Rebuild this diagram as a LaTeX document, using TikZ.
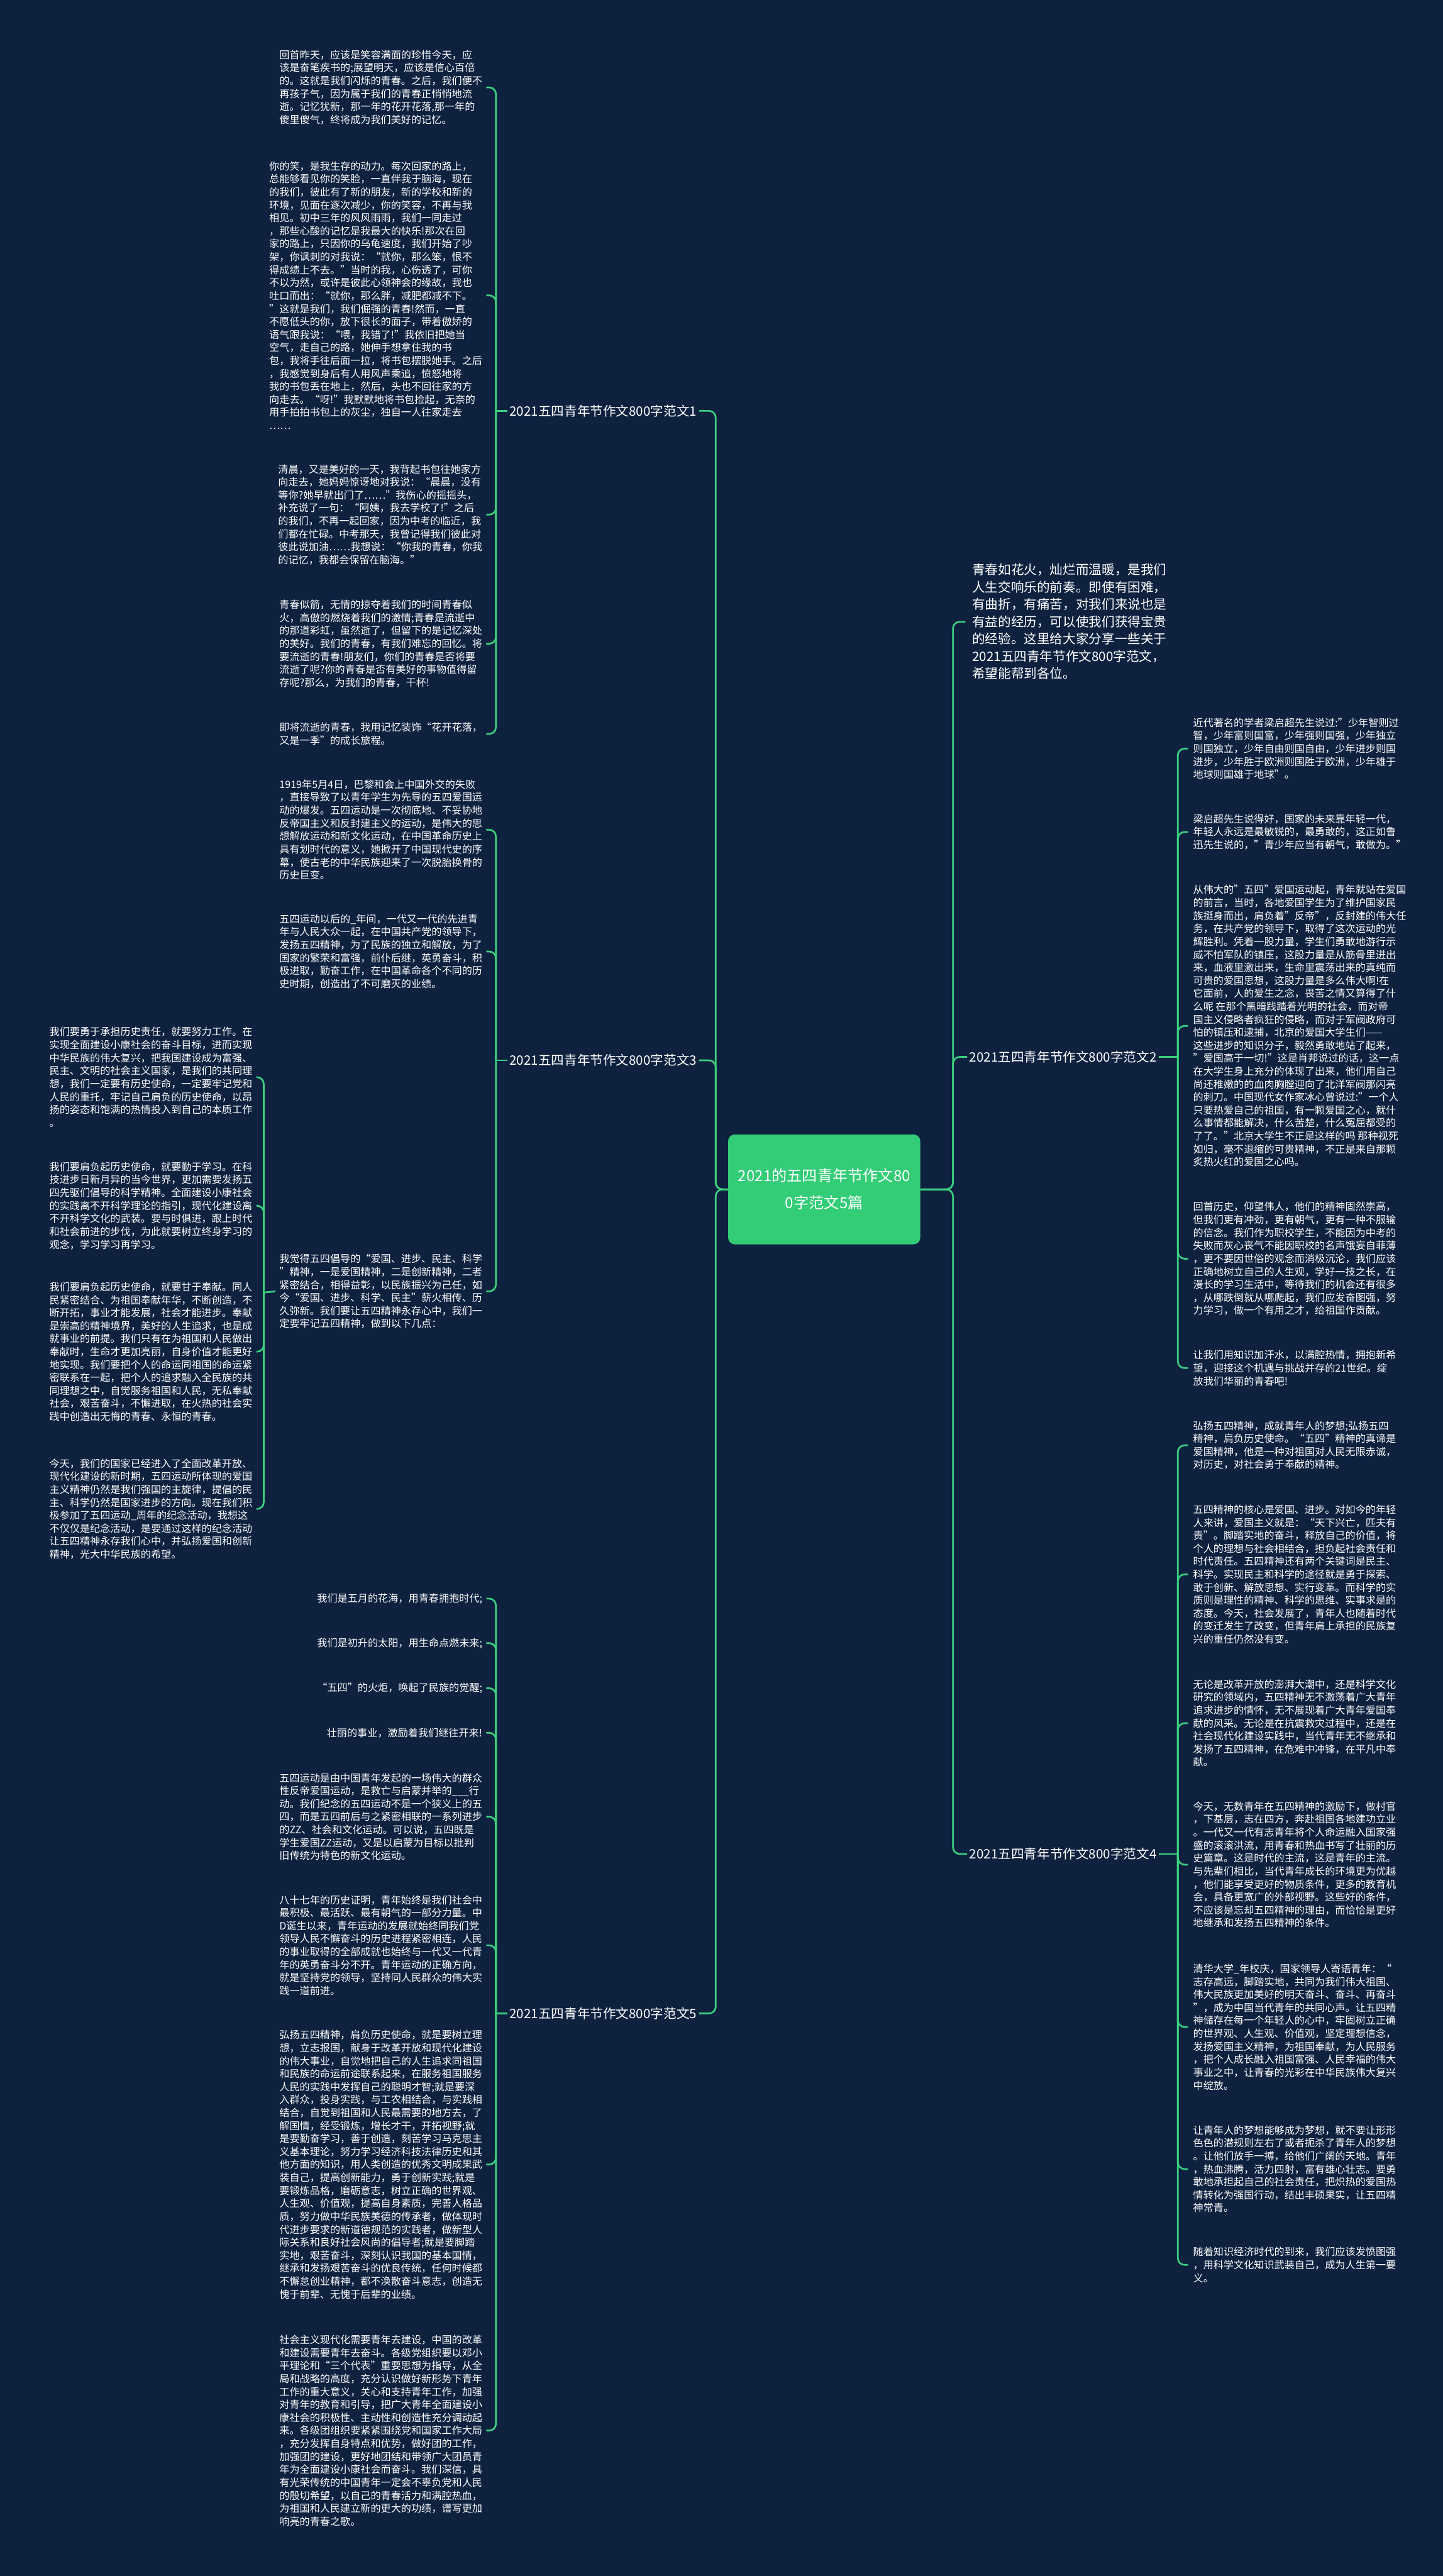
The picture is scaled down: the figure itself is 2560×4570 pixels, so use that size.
\documentclass[tikz,border=0pt]{standalone}
\usepackage{fontspec}
\setmainfont{Noto Sans CJK SC}
\definecolor{bg}{HTML}{0E2240}
\definecolor{ln}{HTML}{3BD07E}
\definecolor{cn}{HTML}{33CC77}
\begin{document}
\begin{tikzpicture}[x=1pt,y=-1pt,
  txt/.style={text=white, font=\fontsize{18pt}{23pt}\selectfont, inner ysep=0pt, align=left},
  lc/.style={txt, anchor=east, inner xsep=7pt},
  lcr/.style={lc, align=right},
  rc/.style={txt, anchor=west, inner xsep=9pt},
  brl/.style={text=white, font=\fontsize{23pt}{28pt}\selectfont, inner sep=4pt, anchor=west},
  intro/.style={text=white, font=\fontsize{23pt}{30.7pt}\selectfont, inner xsep=12pt, inner ysep=0pt, align=left, anchor=west},
  ctr/.style={fill=cn, rounded corners=12pt, minimum width=341pt, minimum height=195pt, text=white, font=\fontsize{27pt}{48pt}\selectfont, align=center},
  con/.style={draw=ln, line width=3pt, rounded corners=12pt},
]
\fill[bg] (0,0) rectangle (2560,4570);
\useasboundingbox (0,0) rectangle (2560,4570);

% center
\node[ctr] (c) at (1462.5,2110) {2021的五四青年节作文80\\0字范文5篇};
\coordinate (cl) at (1270,2110);
\coordinate (cr) at (1691,2110);

% branch labels
\node[brl] (b1) at (900,729) {2021五四青年节作文800字范文1};
\node[brl] (b3) at (900,1881) {2021五四青年节作文800字范文3};
\node[brl] (b5) at (900,3572) {2021五四青年节作文800字范文5};
\node[brl] (b2) at (1716,1875) {2021五四青年节作文800字范文2};
\node[brl] (b4) at (1716,3289) {2021五四青年节作文800字范文4};
\node[intro] (in) at (1713,1103) {青春如花火，灿烂而温暖，是我们\\人生交响乐的前奏。即使有困难，\\有曲折，有痛苦，对我们来说也是\\有益的经历，可以使我们获得宝贵\\的经验。这里给大家分享一些关于\\2021五四青年节作文800字范文，\\希望能帮到各位。};

\draw[con] (c.west) -- (cl) |- (b1.east);
\draw[con] (c.west) -- (cl) |- (b3.east);
\draw[con] (c.west) -- (cl) |- (b5.east);
\draw[con] (c.east) -- (cr) |- (in.west);
\draw[con] (c.east) -- (cr) |- (b2.west);
\draw[con] (c.east) -- (cr) |- (b4.west);

% junctions
\coordinate (j1) at (880,729);
\coordinate (j3) at (880,1881);
\coordinate (j5) at (880,3572);
\coordinate (j2) at (2090,1875);
\coordinate (j4) at (2090,3289);
\coordinate (jl) at (468,2293);
\draw[con] (j1) -- (b1.west);
\draw[con] (j3) -- (b3.west);
\draw[con] (j5) -- (b5.west);
\draw[con] (b2.east) -- (j2);
\draw[con] (b4.east) -- (j4);

% ---------- branch 1 ----------
\node[lc] (c11) at (863,155) {回首昨天，应该是笑容满面的珍惜今天，应\\该是奋笔疾书的;展望明天，应该是信心百倍\\的。这就是我们闪烁的青春。之后，我们便不\\再孩子气，因为属于我们的青春正悄悄地流\\逝。记忆犹新，那一年的花开花落,那一年的\\傻里傻气，终将成为我们美好的记忆。};
\node[lc] (c12) at (863,524) {你的笑，是我生存的动力。每次回家的路上，\\总能够看见你的笑脸，一直伴我于脑海，现在\\的我们，彼此有了新的朋友，新的学校和新的\\环境，见面在逐次减少，你的笑容，不再与我\\相见。初中三年的风风雨雨，我们一同走过\\，那些心酸的记忆是我最大的快乐!那次在回\\家的路上，只因你的乌龟速度，我们开始了吵\\架，你讽刺的对我说：“就你，那么笨，恨不\\得成绩上不去。”当时的我，心伤透了，可你\\不以为然，或许是彼此心领神会的缘故，我也\\吐口而出：“就你，那么胖，减肥都减不下。\\”这就是我们，我们倔强的青春!然而，一直\\不愿低头的你，放下很长的面子，带着傲娇的\\语气跟我说：“喂，我错了!”我依旧把她当\\空气，走自己的路，她伸手想拿住我的书\\包，我将手往后面一拉，将书包摆脱她手。之后\\，我感觉到身后有人用风声乘追，愤怒地将\\我的书包丢在地上，然后，头也不回往家的方\\向走去。“呀!”我默默地将书包捡起，无奈的\\用手拍拍书包上的灰尘，独自一人往家走去\\……};
\node[lc] (c13) at (863,913) {清晨，又是美好的一天，我背起书包往她家方\\向走去，她妈妈惊讶地对我说：“晨晨，没有\\等你?她早就出门了……”我伤心的摇摇头，\\补充说了一句：“阿姨，我去学校了!”之后\\的我们，不再一起回家，因为中考的临近，我\\们都在忙碌。中考那天，我曾记得我们彼此对\\彼此说加油……我想说：“你我的青春，你我\\的记忆，我都会保留在脑海。”};
\node[lc] (c14) at (863,1142) {青春似箭，无情的掠夺着我们的时间青春似\\火，高傲的燃烧着我们的激情;青春是流逝中\\的那道彩虹，虽然逝了，但留下的是记忆深处\\的美好。我们的青春，有我们难忘的回忆。将\\要流逝的青春!朋友们，你们的青春是否将要\\流逝了呢?你的青春是否有美好的事物值得留\\存呢?那么，为我们的青春，干杯!};
\node[lc] (c15) at (863,1302) {即将流逝的青春，我用记忆装饰“花开花落，\\又是一季”的成长旅程。};
\foreach \n in {c11,c12,c13,c14,c15} \draw[con] (j1) |- (\n.east);

% ---------- branch 3 ----------
\node[lc] (c31) at (863,1472) {1919年5月4日，巴黎和会上中国外交的失败\\，直接导致了以青年学生为先导的五四爱国运\\动的爆发。五四运动是一次彻底地、不妥协地\\反帝国主义和反封建主义的运动，是伟大的思\\想解放运动和新文化运动，在中国革命历史上\\具有划时代的意义，她掀开了中国现代史的序\\幕，使古老的中华民族迎来了一次脱胎换骨的\\历史巨变。};
\node[lc] (c32) at (863,1688) {五四运动以后的\_年间，一代又一代的先进青\\年与人民大众一起，在中国共产党的领导下，\\发扬五四精神，为了民族的独立和解放，为了\\国家的繁荣和富强，前仆后继，英勇奋斗，积\\极进取，勤奋工作，在中国革命各个不同的历\\史时期，创造出了不可磨灭的业绩。};
\node[lc] (c33) at (863,2291) {我觉得五四倡导的“爱国、进步、民主、科学\\”精神，一是爱国精神，二是创新精神，二者\\紧密结合，相得益彰，以民族振兴为己任，如\\今“爱国、进步、科学、民主”薪火相传、历\\久弥新。我们要让五四精神永存心中，我们一\\定要牢记五四精神，做到以下几点：};
\foreach \n in {c31,c32,c33} \draw[con] (j3) |- (\n.east);
\draw[con] (jl) -- (c33.west);

\node[lc] (d1) at (455,1911) {我们要勇于承担历史责任，就要努力工作。在\\实现全面建设小康社会的奋斗目标，进而实现\\中华民族的伟大复兴，把我国建设成为富强、\\民主、文明的社会主义国家，是我们的共同理\\想，我们一定要有历史使命，一定要牢记党和\\人民的重托，牢记自己肩负的历史使命，以昂\\扬的姿态和饱满的热情投入到自己的本质工作\\。};
\node[lc] (d2) at (455,2139) {我们要肩负起历史使命，就要勤于学习。在科\\技进步日新月异的当今世界，更加需要发扬五\\四先驱们倡导的科学精神。全面建设小康社会\\的实践离不开科学理论的指引，现代化建设离\\不开科学文化的武装。要与时俱进，跟上时代\\和社会前进的步伐，为此就要树立终身学习的\\观念，学习学习再学习。};
\node[lc] (d3) at (455,2398) {我们要肩负起历史使命，就要甘于奉献。同人\\民紧密结合、为祖国奉献年华，不断创造，不\\断开拓，事业才能发展，社会才能进步。奉献\\是崇高的精神境界，美好的人生追求，也是成\\就事业的前提。我们只有在为祖国和人民做出\\奉献时，生命才更加亮丽，自身价值才能更好\\地实现。我们要把个人的命运同祖国的命运紧\\密联系在一起，把个人的追求融入全民族的共\\同理想之中，自觉服务祖国和人民，无私奉献\\社会，艰苦奋斗，不懈进取，在火热的社会实\\践中创造出无悔的青春、永恒的青春。};
\node[lc] (d4) at (455,2677) {今天，我们的国家已经进入了全面改革开放、\\现代化建设的新时期，五四运动所体现的爱国\\主义精神仍然是我们强国的主旋律，提倡的民\\主、科学仍然是国家进步的方向。现在我们积\\极参加了五四运动\_周年的纪念活动，我想这\\不仅仅是纪念活动，是要通过这样的纪念活动\\让五四精神永存我们心中，并弘扬爱国和创新\\精神，光大中华民族的希望。};
\foreach \n in {d1,d2,d3,d4} \draw[con] (jl) |- (\n.east);

% ---------- branch 5 ----------
\node[lcr] (e1) at (863,2836) {我们是五月的花海，用青春拥抱时代;};
\node[lcr] (e2) at (863,2915) {我们是初升的太阳，用生命点燃未来;};
\node[lcr] (e3) at (863,2995) {“五四”的火炬，唤起了民族的觉醒;};
\node[lcr] (e4) at (863,3074) {壮丽的事业，激励着我们继往开来!};
\node[lc] (e5) at (863,3223) {五四运动是由中国青年发起的一场伟大的群众\\性反帝爱国运动，是救亡与启蒙并举的\_\_\_行\\动。我们纪念的五四运动不是一个狭义上的五\\四，而是五四前后与之紧密相联的一系列进步\\的ZZ、社会和文化运动。可以说，五四既是\\学生爱国ZZ运动，又是以启蒙为目标以批判\\旧传统为特色的新文化运动。};
\node[lc] (e6) at (863,3451) {八十七年的历史证明，青年始终是我们社会中\\最积极、最活跃、最有朝气的一部分力量。中\\D诞生以来，青年运动的发展就始终同我们党\\领导人民不懈奋斗的历史进程紧密相连，人民\\的事业取得的全部成就也始终与一代又一代青\\年的英勇奋斗分不开。青年运动的正确方向，\\就是坚持党的领导，坚持同人民群众的伟大实\\践一道前进。};
\node[lc] (e7) at (863,3840) {弘扬五四精神，肩负历史使命，就是要树立理\\想，立志报国，献身于改革开放和现代化建设\\的伟大事业，自觉地把自己的人生追求同祖国\\和民族的命运前途联系起来，在服务祖国服务\\人民的实践中发挥自己的聪明才智;就是要深\\入群众，投身实践，与工农相结合，与实践相\\结合，自觉到祖国和人民最需要的地方去，了\\解国情，经受锻炼，增长才干，开拓视野;就\\是要勤奋学习，善于创造，刻苦学习马克思主\\义基本理论，努力学习经济科技法律历史和其\\他方面的知识，用人类创造的优秀文明成果武\\装自己，提高创新能力，勇于创新实践;就是\\要锻炼品格，磨砺意志，树立正确的世界观、\\人生观、价值观，提高自身素质，完善人格品\\质，努力做中华民族美德的传承者，做体现时\\代进步要求的新道德规范的实践者，做新型人\\际关系和良好社会风尚的倡导者;就是要脚踏\\实地，艰苦奋斗，深刻认识我国的基本国情，\\继承和发扬艰苦奋斗的优良传统，任何时候都\\不懈怠创业精神，都不涣散奋斗意志，创造无\\愧于前辈、无愧于后辈的业绩。};
\node[lc] (e8) at (863,4312) {社会主义现代化需要青年去建设，中国的改革\\和建设需要青年去奋斗。各级党组织要以邓小\\平理论和“三个代表”重要思想为指导，从全\\局和战略的高度，充分认识做好新形势下青年\\工作的重大意义，关心和支持青年工作，加强\\对青年的教育和引导，把广大青年全面建设小\\康社会的积极性、主动性和创造性充分调动起\\来。各级团组织要紧紧围绕党和国家工作大局\\，充分发挥自身特点和优势，做好团的工作，\\加强团的建设，更好地团结和带领广大团员青\\年为全面建设小康社会而奋斗。我们深信，具\\有光荣传统的中国青年一定会不辜负党和人民\\的殷切希望，以自己的青春活力和满腔热血，\\为祖国和人民建立新的更大的功绩，谱写更加\\响亮的青春之歌。};
\foreach \n in {e1,e2,e3,e4,e5,e6,e7,e8} \draw[con] (j5) |- (\n.east);

% ---------- branch 2 ----------
\node[rc] (f1) at (2108,1328) {近代著名的学者梁启超先生说过:"少年智则过\\智，少年富则国富，少年强则国强，少年独立\\则国独立，少年自由则国自由，少年进步则国\\进步，少年胜于欧洲则国胜于欧洲，少年雄于\\地球则国雄于地球"。};
\node[rc] (f2) at (2108,1476) {梁启超先生说得好，国家的未来靠年轻一代，\\年轻人永远是最敏锐的，最勇敢的，这正如鲁\\迅先生说的，"青少年应当有朝气，敢做为。"};
\node[rc] (f3) at (2108,1820) {从伟大的"五四"爱国运动起，青年就站在爱国\\的前言，当时，各地爱国学生为了维护国家民\\族挺身而出，肩负着"反帝"，反封建的伟大任\\务，在共产党的领导下，取得了这次运动的光\\辉胜利。凭着一股力量，学生们勇敢地游行示\\威不怕军队的镇压，这股力量是从筋骨里迸出\\来，血液里激出来，生命里震荡出来的真纯而\\可贵的爱国思想，这股力量是多么伟大啊!在\\它面前，人的爱生之念，畏苦之情又算得了什\\么呢 在那个黑暗践踏着光明的社会，而对帝\\国主义侵略者疯狂的侵略，而对于军阀政府可\\怕的镇压和逮捕，北京的爱国大学生们——\\这些进步的知识分子，毅然勇敢地站了起来，\\"爱国高于一切!"这是肖邦说过的话，这一点\\在大学生身上充分的体现了出来，他们用自己\\尚还稚嫩的的血肉胸膛迎向了北洋军阀那闪亮\\的刺刀。中国现代女作家冰心曾说过:"一个人\\只要热爱自己的祖国，有一颗爱国之心，就什\\么事情都能解决，什么苦楚，什么冤屈都受的\\了了。"北京大学生不正是这样的吗 那种视死\\如归，毫不退缩的可贵精神，不正是来自那颗\\炙热火红的爱国之心吗。};
\node[rc] (f4) at (2108,2233) {回首历史，仰望伟人，他们的精神固然崇高，\\但我们更有冲劲，更有朝气，更有一种不服输\\的信念。我们作为职校学生，不能因为中考的\\失败而灰心丧气不能因职校的名声饿妄自菲薄\\，更不要因世俗的观念而消极沉沦，我们应该\\正确地树立自己的人生观，学好一技之长，在\\漫长的学习生活中，等待我们的机会还有很多\\，从哪跌倒就从哪爬起，我们应发奋图强，努\\力学习，做一个有用之才，给祖国作贡献。};
\node[rc] (f5) at (2108,2427) {让我们用知识加汗水，以满腔热情，拥抱新希\\望，迎接这个机遇与挑战并存的21世纪。绽\\放我们华丽的青春吧!};
\foreach \n in {f1,f2,f3,f4,f5} \draw[con] (j2) |- (\n.west);

% ---------- branch 4 ----------
\node[rc] (g1) at (2108,2564) {弘扬五四精神，成就青年人的梦想;弘扬五四\\精神，肩负历史使命。“五四”精神的真谛是\\爱国精神，他是一种对祖国对人民无限赤诚，\\对历史，对社会勇于奉献的精神。};
\node[rc] (g2) at (2108,2793) {五四精神的核心是爱国、进步。对如今的年轻\\人来讲，爱国主义就是：“天下兴亡，匹夫有\\责”。脚踏实地的奋斗，释放自己的价值，将\\个人的理想与社会相结合，担负起社会责任和\\时代责任。五四精神还有两个关键词是民主、\\科学。实现民主和科学的途径就是勇于探索、\\敢于创新、解放思想、实行变革。而科学的实\\质则是理性的精神、科学的思维、实事求是的\\态度。今天，社会发展了，青年人也随着时代\\的变迁发生了改变，但青年肩上承担的民族复\\兴的重任仍然没有变。};
\node[rc] (g3) at (2108,3057) {无论是改革开放的澎湃大潮中，还是科学文化\\研究的领域内，五四精神无不激荡着广大青年\\追求进步的情怀，无不展现着广大青年爱国奉\\献的风采。无论是在抗震救灾过程中，还是在\\社会现代化建设实践中，当代青年无不继承和\\发扬了五四精神，在危难中冲锋，在平凡中奉\\献。};
\node[rc] (g4) at (2108,3308) {今天，无数青年在五四精神的激励下，做村官\\，下基层，志在四方，奔赴祖国各地建功立业\\。一代又一代有志青年将个人命运融入国家强\\盛的滚滚洪流，用青春和热血书写了壮丽的历\\史篇章。这是时代的主流，这是青年的主流。\\与先辈们相比，当代青年成长的环境更为优越\\，他们能享受更好的物质条件，更多的教育机\\会，具备更宽广的外部视野。这些好的条件，\\不应该是忘却五四精神的理由，而恰恰是更好\\地继承和发扬五四精神的条件。};
\node[rc] (g5) at (2108,3596) {清华大学\_年校庆，国家领导人寄语青年：“\\志存高远，脚踏实地，共同为我们伟大祖国、\\伟大民族更加美好的明天奋斗、奋斗、再奋斗\\”，成为中国当代青年的共同心声。让五四精\\神储存在每一个年轻人的心中，牢固树立正确\\的世界观、人生观、价值观，坚定理想信念，\\发扬爱国主义精神，为祖国奉献，为人民服务\\，把个人成长融入祖国富强、人民幸福的伟大\\事业之中，让青春的光彩在中华民族伟大复兴\\中绽放。};
\node[rc] (g6) at (2108,3848) {让青年人的梦想能够成为梦想，就不要让形形\\色色的潜规则左右了或者扼杀了青年人的梦想\\。让他们放手一搏，给他们广阔的天地。青年\\，热血沸腾，活力四射，富有雄心壮志。要勇\\敢地承担起自己的社会责任，把炽热的爱国热\\情转化为强国行动，结出丰硕果实，让五四精\\神常青。};
\node[rc] (g7) at (2108,4018) {随着知识经济时代的到来，我们应该发愤图强\\，用科学文化知识武装自己，成为人生第一要\\义。};
\foreach \n in {g1,g2,g3,g4,g5,g6,g7} \draw[con] (j4) |- (\n.west);
\end{tikzpicture}
\end{document}
